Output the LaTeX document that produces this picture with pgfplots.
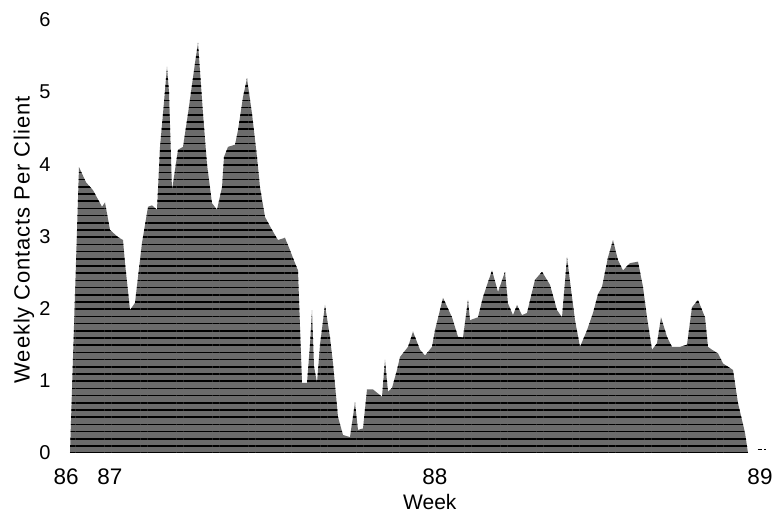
\documentclass[border=0pt]{standalone}
\usepackage{fontspec}
\setmainfont{Liberation Sans}
\usepackage{pgfplots}
\pgfplotsset{compat=1.18}
\usetikzlibrary{patterns.meta}
\begin{document}
\begin{tikzpicture}
\useasboundingbox (-60pt,-65pt) rectangle (717pt,453pt);
\begin{axis}[
  at={(0pt,0pt)}, anchor=south west,
  scale only axis, width=712.5pt, height=447.64pt,
  xmin=-8, xmax=106, ymin=0, ymax=6.2,
  axis line style={draw=none}, tick style={draw=none},
  xtick={-7,0,52,104}, xticklabels={86,87,88,89},
  ytick={0,1,2,3,4,5,6},
  /pgf/number format/assume math mode=true,
  xticklabel style={anchor=center, yshift=-24pt, font=\fontsize{22.5}{26}\selectfont},
  yticklabel style={anchor=center, xshift=-15pt, font=\fontsize{20}{24}\selectfont},
  xlabel={Week},
  xlabel style={at={(axis description cs:0.519,-0.1095)}, anchor=center, font=\fontsize{21}{24}\selectfont},
  ylabel={\addfontfeatures{LetterSpace=4}Weekly Contacts Per Client},
  ylabel style={at={(axis description cs:-0.0505,0.476)}, anchor=center, rotate=0, font=\fontsize{22}{26}\selectfont},
  clip=false,
]
\addplot[draw=none, fill=black!58, postaction={pattern={Lines[angle=0,distance=7.2pt,line width=1.6pt]}}] coordinates {
(-6.4,0) (-4.96,3.96) (-3.84,3.75) (-2.72,3.64) (-1.28,3.41) (-0.8,3.47) (0,3.09) (1.28,2.99) (2.08,2.95) (2.4,2.63) (3.2,1.98) (4.0,2.08) (5.12,2.91) (6.08,3.41) (6.72,3.43) (7.52,3.37) (8.0,4.24) (8.48,4.7) (9.12,5.35) (9.44,5.0) (9.92,3.64) (10.88,4.2) (11.68,4.24) (12.48,4.7) (13.6,5.4) (14.08,5.68) (14.88,4.7) (15.52,4.0) (16.32,3.46) (17.12,3.37) (17.92,3.68) (18.24,4.1) (18.88,4.24) (20.0,4.27) (20.48,4.47) (21.28,4.93) (21.92,5.19) (22.72,4.7) (23.52,4.1) (24.0,3.68) (24.8,3.27) (25.92,3.09) (26.88,2.95) (28.0,2.98) (28.8,2.81) (29.6,2.63) (30.08,2.53) (30.72,0.97) (31.52,0.97) (32.0,1.5) (32.32,1.98) (32.64,1.2) (33.12,0.97) (33.6,1.5) (34.4,2.05) (35.2,1.6) (35.68,1.24) (36.48,0.5) (37.28,0.25) (38.4,0.22) (39.2,0.7) (39.68,0.32) (40.48,0.34) (41.12,0.88) (42.08,0.88) (43.52,0.78) (44.0,1.29) (44.48,0.85) (45.12,0.9) (45.92,1.15) (46.4,1.33) (47.68,1.47) (48.48,1.68) (49.6,1.43) (50.4,1.35) (51.52,1.47) (52.0,1.70) (53.28,2.15) (54.72,1.88) (55.68,1.61) (56.48,1.6) (57.28,2.12) (57.6,1.84) (58.88,1.88) (59.68,2.16) (61.12,2.53) (62.08,2.23) (63.2,2.51) (63.68,2.07) (64.48,1.91) (65.12,2.05) (65.92,1.91) (66.72,1.94) (68.0,2.40) (69.12,2.51) (70.4,2.33) (71.52,1.98) (72.32,1.88) (73.12,2.71) (73.92,2.16) (74.4,1.84) (75.2,1.47) (76.32,1.70) (77.28,1.94) (78.08,2.2) (78.72,2.30) (79.68,2.71) (80.48,2.95) (81.28,2.67) (82.08,2.53) (83.2,2.63) (84.48,2.65) (85.28,2.3) (85.92,1.88) (86.72,1.43) (87.52,1.52) (88.16,1.88) (89.12,1.61) (89.92,1.47) (91.2,1.47) (92.32,1.5) (93.12,2.02) (94.08,2.12) (95.2,1.88) (95.68,1.47) (96.32,1.43) (97.28,1.38) (98.08,1.24) (99.68,1.15) (100.48,0.69) (101.6,0.28) (102.08,0)
} \closedcycle;
\addplot[black, line width=1.2pt] coordinates {(103.6,0.05) (104.3,0.05)};
\addplot[black, line width=1.2pt] coordinates {(104.6,0.05) (105.0,0.05)};
\end{axis}
\end{tikzpicture}
\end{document}
